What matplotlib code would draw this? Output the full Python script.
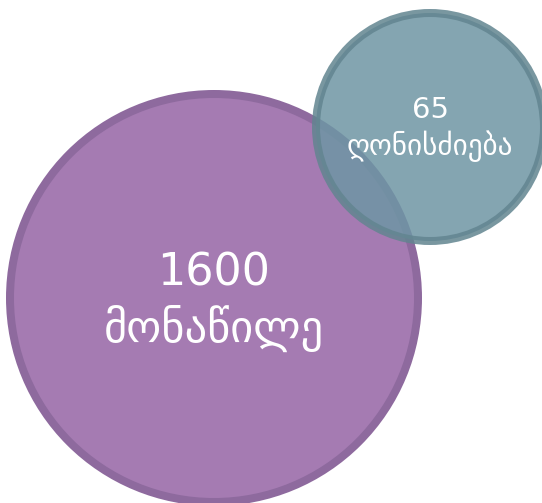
import matplotlib

matplotlib.use("Agg")
import matplotlib.pyplot as plt
from matplotlib.patches import Circle

# data
counts = [1600, 65]
labels = ["მონაწილე", "ღონისძიება"]

# layout (pixels, y down)
W, H = 542, 503
CENTERS = [(214, 298), (430, 127)]
RADII = [204, 114]
EDGE_W = 8
FILLS = ["#A57BB2", "#6E96A4"]
EDGES = ["#8E6A9E", "#628590"]
ALPHAS = [1.0, 0.85]
FONT_SIZES = [32, 21]
# baseline offsets from circle centre: (number, label)
BASELINES = [(-12, 44), (-9, 28)]


def main() -> None:
    plt.rcParams["font.family"] = ["DejaVu Sans"]
    fig = plt.figure(figsize=(W / 100, H / 100), dpi=100)
    ax = fig.add_axes([0, 0, 1, 1])
    ax.set_xlim(0, W)
    ax.set_ylim(H, 0)
    ax.set_aspect("equal")
    ax.axis("off")

    for i, (count, label) in enumerate(zip(counts, labels)):
        cx, cy = CENTERS[i]
        r = RADII[i]
        ax.add_patch(
            Circle(
                (cx, cy),
                r,
                facecolor=FILLS[i],
                edgecolor=EDGES[i],
                linewidth=EDGE_W * 72 / 100,
                alpha=ALPHAS[i],
                zorder=i + 1,
            )
        )
        num_off, lab_off = BASELINES[i]
        ax.text(cx, cy + num_off, f"{count}", ha="center", va="baseline",
                color="white", fontsize=FONT_SIZES[i], zorder=10)
        ax.text(cx, cy + lab_off, label, ha="center", va="baseline",
                color="white", fontsize=FONT_SIZES[i], zorder=10)

    fig.savefig("out.png", dpi=100)


if __name__ == "__main__":
    main()
